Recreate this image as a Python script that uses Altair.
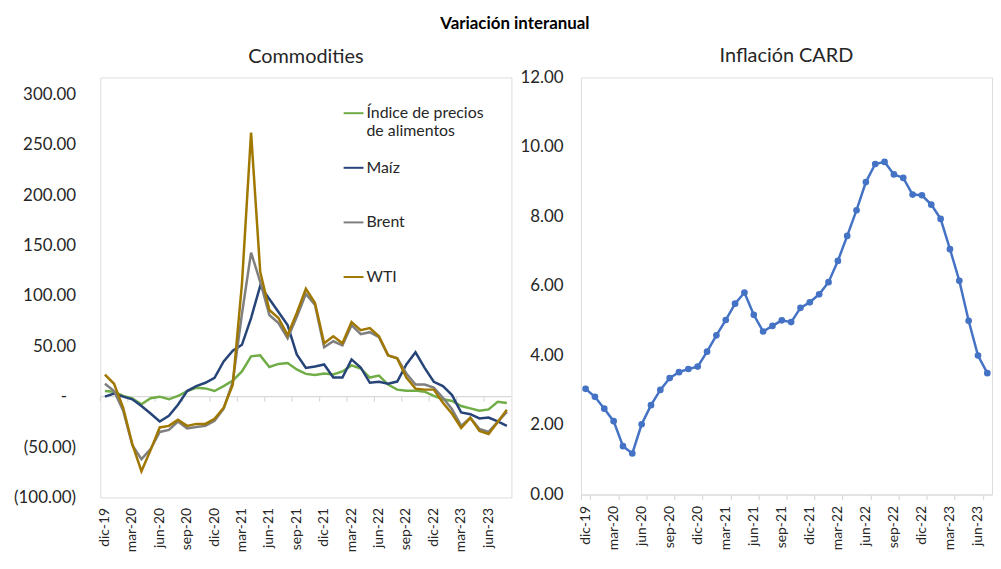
import altair as alt
import pandas as pd

months = ["dic-19", "ene-20", "feb-20", "mar-20", "abr-20", "may-20", "jun-20", "jul-20", "ago-20",
          "sep-20", "oct-20", "nov-20", "dic-20", "ene-21", "feb-21", "mar-21", "abr-21", "may-21",
          "jun-21", "jul-21", "ago-21", "sep-21", "oct-21", "nov-21", "dic-21", "ene-22", "feb-22",
          "mar-22", "abr-22", "may-22", "jun-22", "jul-22", "ago-22", "sep-22", "oct-22", "nov-22",
          "dic-22", "ene-23", "feb-23", "mar-23", "abr-23", "may-23", "jun-23", "jul-23", "ago-23"]

alimentos = [5.6, 5, 0.7, -1.7, -7.5, -1.6, 0, -2.6, 0.7, 5.6, 8.9, 8.2, 5.6, 10.5, 16, 25, 40, 41,
             29.5, 32.5, 33.5, 27, 22.6, 21.5, 23, 22, 25, 31, 28, 19, 21, 12, 7, 6, 6, 5, 0.7, -2.6,
             -4.3, -9.3, -11.6, -14, -12.6, -5, -6.3]
maiz = [0, 3.2, 0, -2.6, -9.2, -16.7, -24.6, -19, -8, 5.6, 10.5, 13.8, 18.7, 35, 45.6, 51.5, 78, 110,
        97, 84, 71, 42, 28.5, 30, 32, 19, 19, 37, 29, 13.8, 14.8, 12.8, 15, 32, 44, 28.5, 14.8, 10.5,
        1.6, -15.7, -17.4, -21.6, -20.7, -24.6, -28.9]
brent = [12.8, 5.6, -14, -48, -62, -52, -35, -33, -24.6, -31.5, -30, -29, -24, -12, 15, 82, 143, 114,
         81, 73, 58, 79, 102, 91, 49, 55, 51, 71, 62, 64, 59, 41, 38, 23, 12, 12, 9, -1, -12.5, -29,
         -21, -32, -35, -25, -15]
wti = [22, 12.8, -11, -47, -74, -53, -30.5, -29, -23, -29, -27, -27, -22, -11, 12, 112, 262, 124, 86,
       78, 61, 83, 107, 93, 53, 60, 53, 74, 66, 68, 60, 41, 38, 19, 8, 7, 7, -6, -17, -31, -21, -34,
       -37, -25, -13]

card = [3.04, 2.81, 2.47, 2.11, 1.39, 1.18, 2.02, 2.57, 3.01, 3.35, 3.52, 3.61, 3.68, 4.11, 4.58,
        5.02, 5.49, 5.81, 5.17, 4.69, 4.85, 5.01, 4.96, 5.37, 5.53, 5.76, 6.11, 6.72, 7.44, 8.18,
        8.99, 9.51, 9.57, 9.21, 9.11, 8.63, 8.61, 8.34, 7.93, 7.06, 6.15, 5.00, 4.00, 3.49]
card_months = months[:len(card)]

series_names = ["Índice de precios de alimentos", "Maíz", "Brent", "WTI"]
series_colors = ["#70AD47", "#264478", "#7F7F7F", "#A07800"]
series_values = [alimentos, maiz, brent, wti]

left_y_ticks = [-100, -50, 0, 50, 100, 150, 200, 250, 300]
left_y_domain = [-100, 316.75]
right_y_ticks = [0, 2, 4, 6, 8, 10, 12]

TXT = "#262626"
GRID = "#D9D9D9"

rows = []
for name, vals in zip(series_names, series_values):
    for m, v in zip(months, vals):
        rows.append({"mes": m, "serie": name, "valor": v})
df_left = pd.DataFrame(rows)
df_ticks = pd.DataFrame({"mes": months[::3]})
df_zero = pd.DataFrame({"mes": [months[0]]})
df_right = pd.DataFrame({"mes": card_months, "valor": card})

xs_left = alt.Scale(type="band", domain=months, paddingInner=0, paddingOuter=0)
ys_left = alt.Scale(domain=left_y_domain, nice=False, zero=False)

x_axis_left = alt.Axis(values=months[::3], labelAngle=-90, domain=False, ticks=False, grid=False,
                       labelPadding=10, labelFontSize=14, labelColor=TXT, title=None)
y_axis_left = alt.Axis(values=left_y_ticks, domain=False, ticks=False, grid=False,
                       labelPadding={"condition": {"test": "datum.value == 0", "value": 34}, "value": 25},
                       labelFontSize=17, labelColor=TXT, title=None,
                       labelExpr="datum.value == 0 ? '-' : (datum.value < 0 ? '(' + format(-datum.value, '.2f') + ')' : format(datum.value, '.2f'))")

legend_expr = ("datum.label == 'Índice de precios de alimentos' ? ['Índice de precios', 'de alimentos'] "
               ": [datum.label, '']")

lines = alt.Chart(df_left).mark_line(strokeWidth=2.5).encode(
    x=alt.X("mes:N", scale=xs_left, bandPosition=0.5, axis=x_axis_left),
    y=alt.Y("valor:Q", scale=ys_left, axis=y_axis_left),
    color=alt.Color("serie:N", scale=alt.Scale(domain=series_names, range=series_colors),
                    legend=alt.Legend(orient="none", legendX=244, legendY=25, title=None,
                                      symbolType="stroke", symbolStrokeWidth=2, symbolSize=400,
                                      labelFontSize=16, labelColor=TXT, labelLimit=300,
                                      rowPadding=18, labelOffset=2, labelExpr=legend_expr)),
)

zero_line = alt.Chart(df_zero).transform_calculate(y0="0").mark_rule(
    color=GRID, strokeWidth=1.2
).encode(
    y=alt.Y("y0:Q", scale=ys_left, axis=y_axis_left),
)

tick_marks = alt.Chart(df_ticks).transform_calculate(y0="0").mark_point(
    shape="stroke", angle=90, size=25, stroke=GRID, strokeWidth=1.2, filled=False,
    opacity=1, yOffset=2.5
).encode(
    x=alt.X("mes:N", scale=xs_left, bandPosition=0, axis=x_axis_left),
    y=alt.Y("y0:Q", scale=ys_left, axis=y_axis_left),
)

left = alt.layer(zero_line, tick_marks, lines).properties(
    width=414, height=423,
    title=alt.TitleParams("Commodities", fontSize=20, fontWeight="normal", color=TXT, offset=11),
)

right = alt.Chart(df_right).mark_line(
    color="#4472C4", strokeWidth=2.5,
    point=alt.OverlayMarkDef(color="#4472C4", size=45, filled=True, opacity=1),
).encode(
    x=alt.X("mes:N", scale=alt.Scale(type="band", domain=card_months, paddingInner=0, paddingOuter=0),
            bandPosition=0.5,
            axis=alt.Axis(values=card_months[::3], tickBand="extent", labelAngle=-90,
                          domain=True, ticks=True,
                          domainColor=GRID, tickColor=GRID, tickSize=5, domainWidth=1.2, tickWidth=1.2,
                          labelPadding=6, labelFontSize=14, labelColor=TXT, title=None)),
    y=alt.Y("valor:Q", scale=alt.Scale(domain=[0, 12], nice=False),
            axis=alt.Axis(values=right_y_ticks, format=".2f", domain=False, ticks=False, grid=False,
                          labelPadding=18, labelFontSize=17, labelColor=TXT, title=None)),
).properties(
    width=414, height=420,
    title=alt.TitleParams("Inflación CARD", fontSize=20, fontWeight="normal", color=TXT, offset=3),
)

chart = alt.hconcat(left, right, spacing=6).properties(
    title=alt.TitleParams("Variación interanual", fontSize=17, fontWeight="bold", color="#000000",
                          anchor="middle", offset=12, dx=12),
    padding={"left": 5, "top": 5, "right": 0, "bottom": 0},
).configure_view(stroke=None).configure_axis(domain=False, ticks=False, grid=False).configure(font="Lato")

chart.save("out.html", embed_options={"renderer": "svg", "actions": False})
